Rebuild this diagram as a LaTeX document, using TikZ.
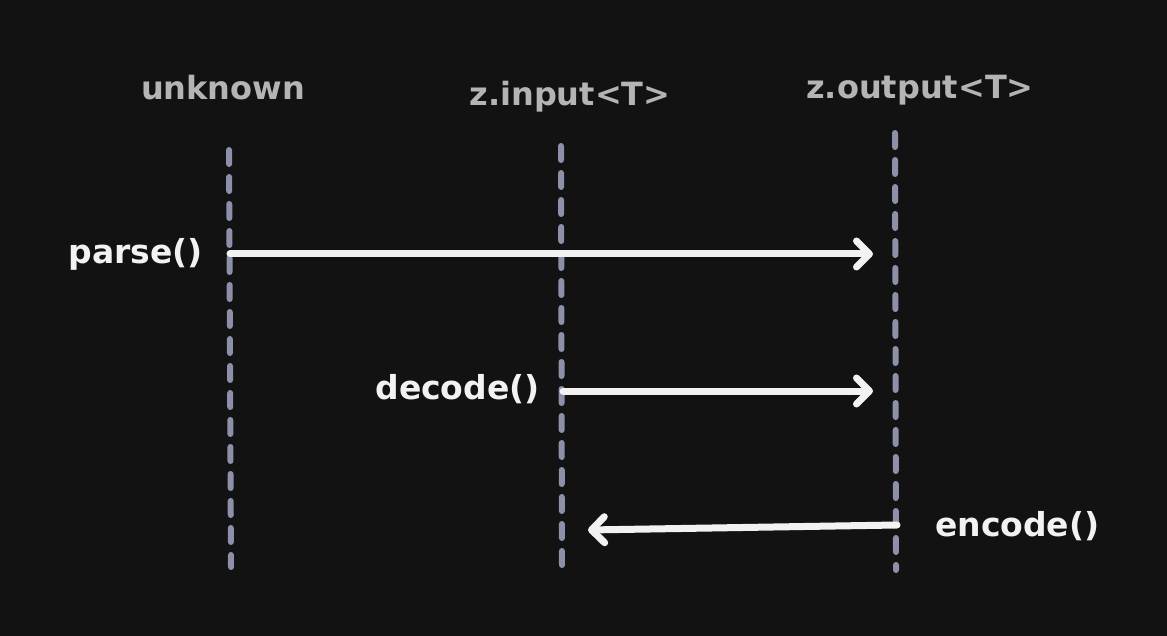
\documentclass[tikz,border=0pt]{standalone}
\usepackage{fontspec}
\setmainfont{DejaVu Sans}
\usetikzlibrary{arrows.meta}
\definecolor{canvas}{HTML}{121212}
\definecolor{lifegray}{HTML}{8C90A8}
\definecolor{headgray}{HTML}{B4B4B4}
\definecolor{msgwhite}{HTML}{F2F2F2}
\tikzset{
  header/.style={text=headgray, font=\fontsize{32}{38}\selectfont\bfseries, inner sep=0pt},
  msglabel/.style={text=msgwhite, font=\fontsize{33}{40}\selectfont\bfseries, inner sep=0pt},
  lifeline/.style={draw=lifegray, line width=6pt, line cap=round, dash pattern=on 14pt off 13pt},
  message/.style={draw=msgwhite, line width=7pt, line cap=round,
    -{Straight Barb[length=13pt, width=26pt, round]}}
}
\begin{document}
\begin{tikzpicture}[x=1pt, y=-1pt]
                    \fill[canvas] (0,0) rectangle (1167,636);
                    \useasboundingbox (0,0) rectangle (1167,636);
                    % participants
                    \node[header] (unknown) at (223, 88) {unknown};
                    \node[header] (zinput) at (570, 97) {z.input<T>};
                    \node[header] (zoutput) at (920, 90) {z.output<T>};
                    \coordinate (unknown top) at (229, 150);
                    \coordinate (unknown bottom) at (231, 567);
                    \coordinate (zinput top) at (561, 146);
                    \coordinate (zinput bottom) at (562, 567);
                    \coordinate (zoutput top) at (895, 133);
                    \coordinate (zoutput bottom) at (896, 570);
                    \draw[lifeline] (unknown top) -- (unknown bottom);
                    \draw[lifeline] (zinput top) -- (zinput bottom);
                    \draw[lifeline] (zoutput top) -- (zoutput bottom);
                    % messages
                    \node[msglabel, anchor=east] (parse) at (203, 254) {parse()};
                    \coordinate (parse start) at (230, 254);
                    \coordinate (parse end) at (873, 254);
                    \draw[message] (parse start) -- (parse end);
                    \node[msglabel, anchor=east] (decode) at (540, 389) {decode()};
                    \coordinate (decode start) at (563, 391);
                    \coordinate (decode end) at (873, 391);
                    \draw[message] (decode start) -- (decode end);
                    \node[msglabel, anchor=west] (encode) at (935, 526) {encode()};
                    \coordinate (encode start) at (897, 525);
                    \coordinate (encode end) at (588, 530);
                    \draw[message] (encode start) -- (encode end);
                \end{tikzpicture}
\end{document}
